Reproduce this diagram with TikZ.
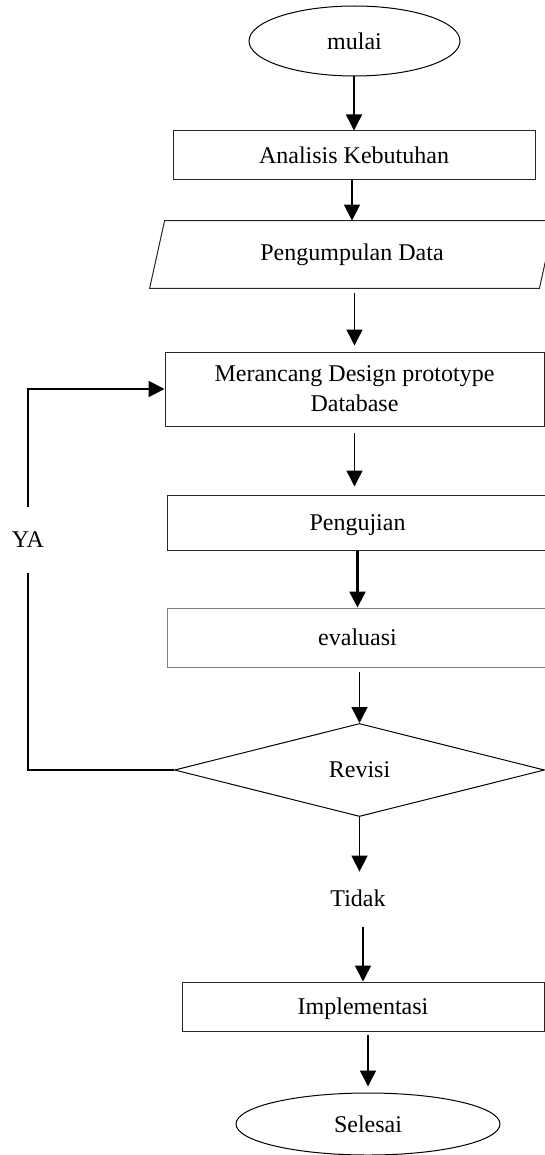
\documentclass[tikz,border=0pt]{standalone}
\usepackage{fontspec}
\setmainfont{Liberation Serif}
\usetikzlibrary{arrows.meta,shapes.geometric}
\tikzstyle{oterm}=[ellipse,draw=black,line width=0.5pt,inner sep=0pt,text depth=0pt]
\tikzstyle{oproc}=[rectangle,draw=black!85,line width=0.5pt,inner sep=0pt,text depth=0pt]
\tikzstyle{odec}=[diamond,draw=black,line width=0.5pt,inner sep=0pt]
\tikzstyle{dflow}=[-{Triangle[length=8pt,width=8pt]}, line width=0.75pt]

\begin{document}
\begin{tikzpicture}[x=0.5pt,y=-0.5pt,font=\fontsize{12}{15}\selectfont]
\useasboundingbox (0,0) rectangle (545,1155);
\node[oterm,minimum width=105.5pt,minimum height=35pt] (M) at (354.5,41) {mulai};
\node[oproc,minimum width=181pt,minimum height=24.5pt] (AK) at (354,155.5) {Analisis Kebutuhan};
\node[minimum width=194.5pt,minimum height=33.5pt,inner sep=0pt] (PD) at (352,254.5) {Pengumpulan Data};
\draw[line width=0.5pt,draw=black!85] ([xshift=-3.75pt]PD.south west) -- ([xshift=-3.75pt]PD.south east) -- ([xshift=3.75pt]PD.north east) -- ([xshift=3.75pt]PD.north west) -- cycle;
\node[oproc,minimum width=189.5pt,minimum height=37pt,align=center] (MD) at (354.5,389) {Merancang Design prototype\\Database};
\node[oproc,minimum width=190.5pt,minimum height=27.5pt] (PJ) at (357.5,522.5) {Pengujian};
\node[oproc,draw=black!50,minimum width=190.5pt,minimum height=29.5pt] (EV) at (357.5,637.5) {evaluasi};
\node[odec,minimum width=185pt,minimum height=46.5pt] (RV) at (359.5,770) {Revisi};
\node[inner sep=0pt,minimum height=26pt] (TD) at (358,898) {Tidak};
\node[oproc,minimum width=181pt,minimum height=24.5pt] (IM) at (363,1006.5) {Implementasi};
\node[oterm,minimum width=132pt,minimum height=31pt] (SL) at (368,1124) {Selesai};
\node[inner sep=0pt,minimum height=33pt] (YA) at (28,540) {YA};
% alur utama
\draw[dflow](AK.north |- M.south)--(AK.north);
\draw[dflow](PD.north |- AK.south)--(PD.north);
\draw[dflow,shorten <=2.5pt,shorten >=3pt](MD.north |- PD.south)--(MD.north);
\draw[dflow,shorten <=3pt,shorten >=4pt](MD.south)--(MD.south |- PJ.north);
\draw[dflow,line width=1.3pt](PJ.south)--(EV.north);
\draw[dflow,shorten <=2pt](RV.north |- EV.south)--(RV.north);
\draw[dflow](RV.south)--(RV.south |- TD.north);
\draw[dflow,shorten <=1.5pt](IM.north |- TD.south)--(IM.north);
\draw[dflow,shorten <=1.5pt,shorten >=3pt](SL.north |- IM.south)--(SL.north);
% kembali ke perancangan
\draw[line width=1pt](RV.west)-|(YA.south);
\draw[dflow,line width=1pt](YA.north)|-(MD.west);
\end{tikzpicture}
\end{document}
